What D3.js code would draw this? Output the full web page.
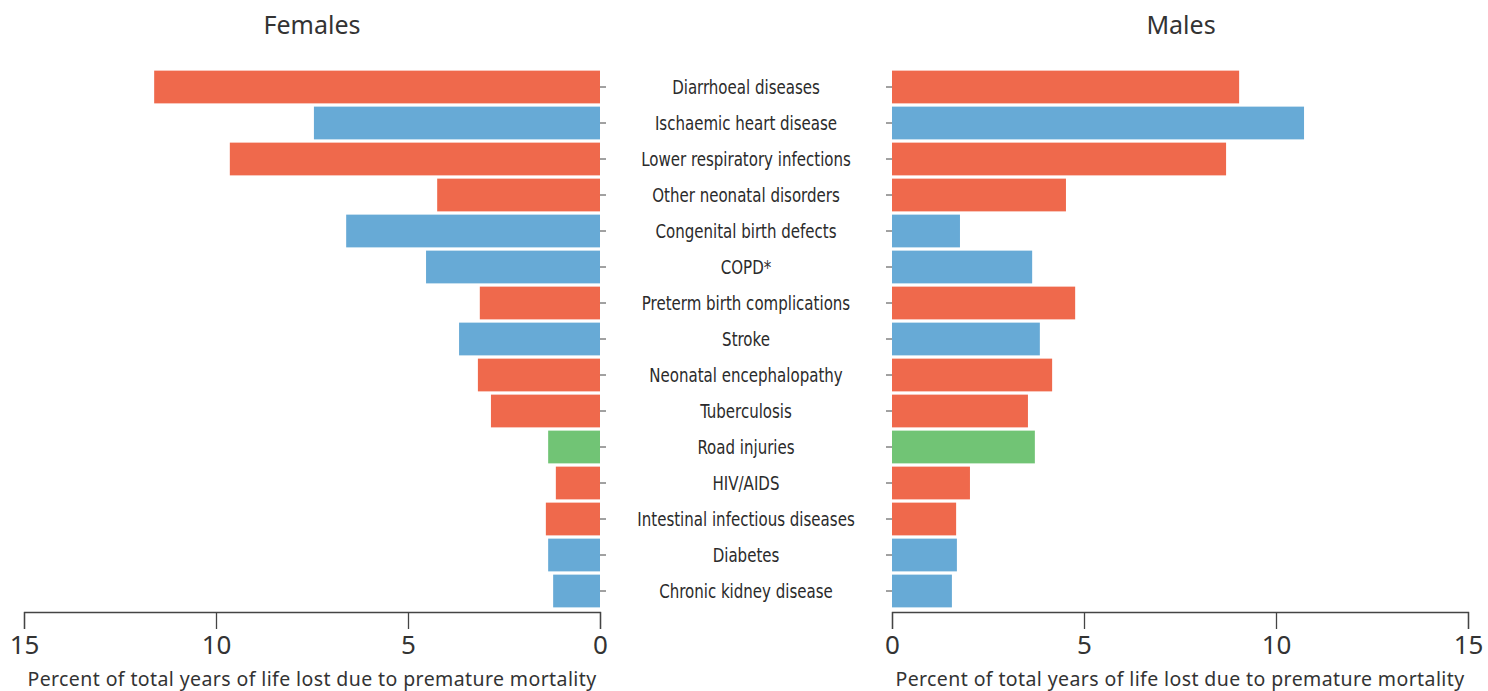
<!DOCTYPE html>
<html>
<head>
<meta charset="utf-8">
<script src="https://cdn.jsdelivr.net/npm/d3@7"></script>
<style>
  body { margin: 0; background: #fff; }
  svg text { fill: #333; }
</style>
</head>
<body>
<div id="chart"></div>
<script>
var causes = ["Diarrhoeal diseases", "Ischaemic heart disease", "Lower respiratory infections",
    "Other neonatal disorders", "Congenital birth defects", "COPD*", "Preterm birth complications",
    "Stroke", "Neonatal encephalopathy", "Tuberculosis", "Road injuries", "HIV/AIDS",
    "Intestinal infectious diseases", "Diabetes", "Chronic kidney disease"];
var groups = ["comm", "ncd", "comm", "comm", "ncd", "ncd", "comm",
    "ncd", "comm", "comm", "inj", "comm", "comm", "ncd", "ncd"];
var females = [11.61, 7.45, 9.64, 4.24, 6.61, 4.53, 3.13, 3.67, 3.18, 2.84, 1.35, 1.15, 1.41, 1.35, 1.22];
var males = [9.04, 10.73, 8.70, 4.53, 1.77, 3.65, 4.77, 3.85, 4.17, 3.54, 3.72, 2.03, 1.67, 1.69, 1.56];
var ticks = [0, 5, 10, 15];

var colors = {comm: "#ef694c", ncd: "#67aad6", inj: "#71c475"};
var font = "'Noto Sans', 'Open Sans', sans-serif";

var width = 1488, height = 691;
var svg = d3.select("#chart")
    .append("svg")
    .attr("width", width)
    .attr("height", height);

var y = d3.scaleBand()
    .domain(causes)
    .range([69, 609])
    .paddingInner(0.09)
    .paddingOuter(0.045);

var xF = d3.scaleLinear().domain([15, 0]).range([24, 600]);
var xM = d3.scaleLinear().domain([0, 15]).range([892, 1468]);

// Females
svg.append("g")
    .selectAll("rect")
    .data(females)
    .enter()
    .append("rect")
    .attr("x", function(d) { return xF(d); })
    .attr("y", function(d, i) { return y(causes[i]); })
    .attr("width", function(d) { return xF(0) - xF(d); })
    .attr("height", y.bandwidth())
    .attr("fill", function(d, i) { return colors[groups[i]]; });

// Males
svg.append("g")
    .selectAll("rect")
    .data(males)
    .enter()
    .append("rect")
    .attr("x", xM(0))
    .attr("y", function(d, i) { return y(causes[i]); })
    .attr("width", function(d) { return xM(d) - xM(0); })
    .attr("height", y.bandwidth())
    .attr("fill", function(d, i) { return colors[groups[i]]; });

// small ticks at the zero lines
var yl = svg.append("g")
    .attr("transform", "translate(600,0)")
    .call(d3.axisRight(y).tickSize(6).tickSizeOuter(0).tickFormat(""));
var yr = svg.append("g")
    .attr("transform", "translate(892,0)")
    .call(d3.axisLeft(y).tickSize(6).tickSizeOuter(0).tickFormat(""));
[yl, yr].forEach(function(g) {
    g.select(".domain").remove();
    g.selectAll(".tick line").attr("stroke", "#444");
});

// category labels (condensed)
svg.append("g")
    .selectAll("text")
    .data(causes)
    .enter()
    .append("text")
    .attr("transform", function(d) {
        return "translate(746," + (y(d) + y.bandwidth() / 2) + ") scale(0.88,1)";
    })
    .attr("dy", "0.36em")
    .attr("text-anchor", "middle")
    .style("font-family", "'DejaVu Sans Condensed', 'DejaVu Sans', sans-serif")
    .style("font-size", "19px")
    .style("fill", "#2b2b2b")
    .text(function(d) { return d; });

// bottom axes
function styleAxis(g) {
    g.selectAll("path, line").attr("stroke", "#444").attr("stroke-width", 1.3);
    g.selectAll("text")
        .style("font-family", font)
        .style("font-size", "26px")
        .style("fill", "#333");
}
svg.append("g")
    .attr("transform", "translate(0,612)")
    .call(d3.axisBottom(xF).tickValues(ticks).tickSize(17).tickPadding(7))
    .call(styleAxis);
svg.append("g")
    .attr("transform", "translate(0,612)")
    .call(d3.axisBottom(xM).tickValues(ticks).tickSize(17).tickPadding(7))
    .call(styleAxis);

// axis titles
[xF, xM].forEach(function(x) {
    svg.append("text")
        .attr("x", (x.range()[0] + x.range()[1]) / 2)
        .attr("y", 686)
        .attr("text-anchor", "middle")
        .style("font-family", font)
        .style("font-size", "19.5px")
        .style("letter-spacing", "0.4px")
        .text("Percent of total years of life lost due to premature mortality");
});

// panel titles
svg.append("text")
    .attr("x", 312)
    .attr("y", 34)
    .attr("text-anchor", "middle")
    .style("font-family", font)
    .style("font-size", "25px")
    .text("Females");
svg.append("text")
    .attr("x", 1181)
    .attr("y", 34)
    .attr("text-anchor", "middle")
    .style("font-family", font)
    .style("font-size", "25px")
    .text("Males");
</script>
</body>
</html>
